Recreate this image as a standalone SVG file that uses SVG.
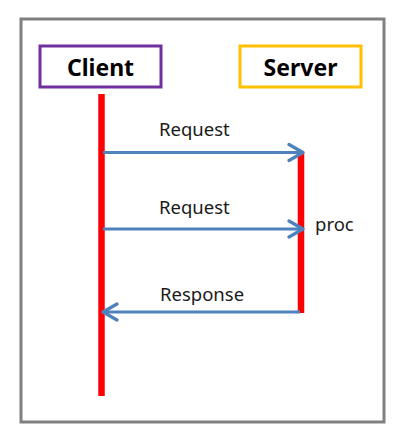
<svg xmlns="http://www.w3.org/2000/svg" width="400" height="435" viewBox="0 0 400 435">
<style>
.lbl{font-family:"Noto Sans","Open Sans",sans-serif;font-size:18.5px;fill:#1a1a1a}
.hdr{font-family:"Noto Sans","Open Sans",sans-serif;font-size:23px;font-weight:bold;fill:#000;text-anchor:middle}
.msg{stroke:#4F81BD;stroke-width:3;fill:none}
.life{stroke:#FF0000;stroke-width:6.5}
</style>
<defs>
<marker id="ah" viewBox="0 0 20 20" refX="17" refY="10" markerWidth="20" markerHeight="20" markerUnits="userSpaceOnUse" orient="auto">
<path d="M3,2 L17,10 L3,18" fill="none" stroke="#4F81BD" stroke-width="3.2" stroke-linecap="round" stroke-linejoin="round"/>
</marker>
</defs>
<rect x="0" y="0" width="400" height="435" fill="#fff"/>
<rect id="frame" x="21" y="19" width="363" height="403" fill="none" stroke="#808080" stroke-width="3"/>
<g id="client">
<rect x="40" y="46" width="121" height="41" fill="#fff" stroke="#7030A0" stroke-width="3"/>
<text class="hdr" x="100.5" y="76">Client</text>
<line class="life" x1="101.5" y1="94" x2="101.5" y2="396"/>
</g>
<g id="server">
<rect x="240" y="46" width="121" height="41" fill="#fff" stroke="#FFC000" stroke-width="3"/>
<text class="hdr" x="300.5" y="76">Server</text>
<line class="life" x1="301" y1="152" x2="301" y2="313"/>
</g>
<g id="connectors">
<line class="msg" x1="103" y1="152.5" x2="303" y2="152.5" marker-end="url(#ah)"/>
<line class="msg" x1="103" y1="229" x2="303" y2="229" marker-end="url(#ah)"/>
<line class="msg" x1="300" y1="312" x2="103" y2="312" marker-end="url(#ah)"/>
</g>
<text class="lbl" x="159" y="136">Request</text>
<text class="lbl" x="159" y="214">Request</text>
<text class="lbl" x="315" y="231">proc</text>
<text class="lbl" x="160" y="301">Response</text>
</svg>
